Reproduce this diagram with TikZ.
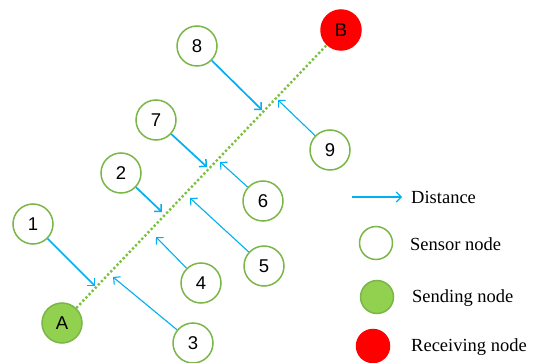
\documentclass[tikz,border=0pt]{standalone}
\usepackage{fontspec}
\setmainfont{Liberation Serif}
\newfontfamily\numfont{Liberation Sans}
\usetikzlibrary{arrows.meta}
\definecolor{gline}{HTML}{7AB648}
\definecolor{gfill}{HTML}{92D050}
\definecolor{gdot}{HTML}{7CC040}
\definecolor{blu}{HTML}{00B0F0}
\begin{document}
\begin{tikzpicture}[x=1pt,y=-1pt,
  sensor/.style={circle, draw=gline, line width=1.5pt, fill=white, minimum size=40pt, inner sep=0pt, font=\numfont\fontsize{18.5}{18.5}\selectfont},
  sender/.style={sensor, fill=gfill},
  receiver/.style={sensor, draw=red, fill=red},
  legsensor/.style={circle, draw=gline, line width=1.5pt, fill=white, minimum size=33pt, inner sep=0pt},
  legsender/.style={legsensor, fill=gfill},
  legreceiver/.style={legsensor, draw=red, fill=red},
  thick arrow/.style={draw=blu, line width=1.7pt, -{Straight Barb[length=5pt,width=10pt,line width=1.5pt]}},
  thin arrow/.style={draw=blu, line width=1.1pt, -{Straight Barb[length=5pt,width=10pt,line width=1.1pt]}},
  dotline/.style={draw=gdot, line width=2.4pt, dash pattern=on 2.3pt off 2.2pt},
  legtext/.style={anchor=west, font=\fontsize{18.5}{20}\selectfont, inner sep=0pt}
]
\useasboundingbox (0,0) rectangle (534,363);

% main nodes
\node[sender] (A) at (62,323) {A};
\node[receiver] (B) at (341,30) {B};
\draw[dotline] (A) -- (B);

\node[sensor] (n1) at (33,224) {1};
\node[sensor] (n2) at (121,173) {2};
\node[sensor] (n3) at (193,343) {3};
\node[sensor] (n4) at (201,283) {4};
\node[sensor] (n5) at (264,266) {5};
\node[sensor] (n6) at (263,201) {6};
\node[sensor] (n7) at (156,120) {7};
\node[sensor] (n8) at (197,46) {8};
\node[sensor] (n9) at (330,150) {9};

% arrow tips on the line
\coordinate (t1) at (95,286);
\coordinate (t2) at (162,212);
\coordinate (t3) at (113,277);
\coordinate (t4) at (156,237);
\coordinate (t5) at (190,198);
\coordinate (t6) at (220,162);
\coordinate (t7) at (207,167);
\coordinate (t8) at (262,110);
\coordinate (t9) at (278,100);

\draw[thick arrow] (n1) -- (t1);
\draw[thick arrow] (n2) -- (t2);
\draw[thick arrow] (n7) -- (t7);
\draw[thick arrow] (n8) -- (t8);
\draw[thin arrow] (n3) -- (t3);
\draw[thin arrow] (n4) -- (t4);
\draw[thin arrow] (n5) -- (t5);
\draw[thin arrow] (n6) -- (t6);
\draw[thin arrow] (n9) -- (t9);

% legend
\coordinate (ls) at (352,197);
\coordinate (le) at (402,197);
\draw[thin arrow] (ls) -- (le);
\node[legtext] (ld) at (411,197) {Distance};
\node[legsensor] (lc1) at (376,243) {};
\node[legtext] (lt1) at (410,244) {Sensor node};
\node[legsender] (lc2) at (377,297) {};
\node[legtext] (lt2) at (412,298) {Sending node};
\node[legreceiver] (lc3) at (373,346) {};
\node[legtext] (lt3) at (411,347) {Receiving node};
\end{tikzpicture}
\end{document}
